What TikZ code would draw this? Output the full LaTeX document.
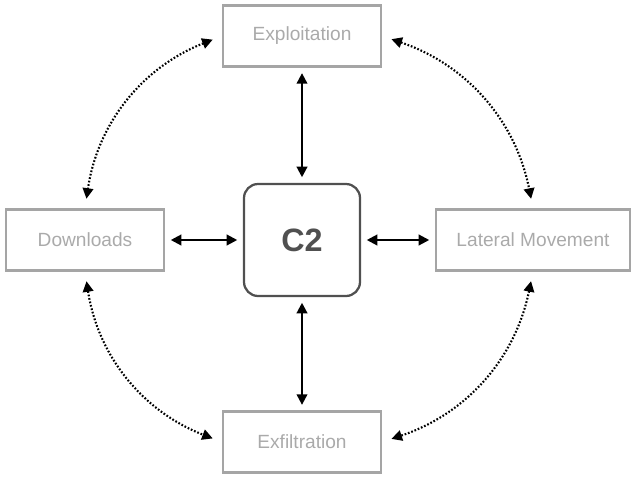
\documentclass[tikz,border=0pt]{standalone}
\usepackage{fontspec}
\setmainfont{Liberation Sans}
\usetikzlibrary{arrows.meta}
\definecolor{boxgray}{RGB}{165,165,165}
\definecolor{txtgray}{RGB}{170,170,170}
\definecolor{hubgray}{RGB}{80,80,80}
\begin{document}
\begin{tikzpicture}[>={Triangle[length=7.5pt,width=7.5pt]},
  stagebox/.style={draw=boxgray, line width=1.6pt, text=txtgray, minimum width=3.95cm, minimum height=1.52cm, font=\fontsize{13.6}{16}\selectfont},
  hubbox/.style={draw=hubgray, line width=1.6pt, rounded corners=10pt, text=hubgray, minimum width=2.9cm, minimum height=2.8cm, font=\fontsize{23}{26}\selectfont\bfseries},
  link/.style={<->, line width=1.5pt, shorten <=4pt, shorten >=4pt},
  loop/.style={<->, line width=1.5pt, dash pattern=on 1.2pt off 1.3pt, shorten <=7pt, shorten >=7pt}]
\useasboundingbox (0,0) rectangle (15.775,-11.925);
\node[hubbox] (c2) at (7.55,-6.0) {C2};
\node[stagebox] (expl) at (7.55,-0.9) {Exploitation};
\node[stagebox] (down) at (2.125,-6.0) {Downloads};
\node[stagebox, minimum width=4.85cm] (lat) at (13.325,-6.0) {Lateral Movement};
\node[stagebox] (exfil) at (7.55,-11.05) {Exfiltration};
% spokes to the hub
\draw[link] (expl) -- (c2);
\draw[link] (down) -- (c2);
\draw[link] (lat) -- (c2);
\draw[link] (exfil) -- (c2);
% outer ring
\draw[loop] (expl.west) to[bend right=30] (down.north);
\draw[loop] (expl.east) to[bend left=30] (lat.north);
\draw[loop] (down.south) to[bend right=30] (exfil.west);
\draw[loop] (lat.south) to[bend left=30] (exfil.east);
\end{tikzpicture}
\end{document}
